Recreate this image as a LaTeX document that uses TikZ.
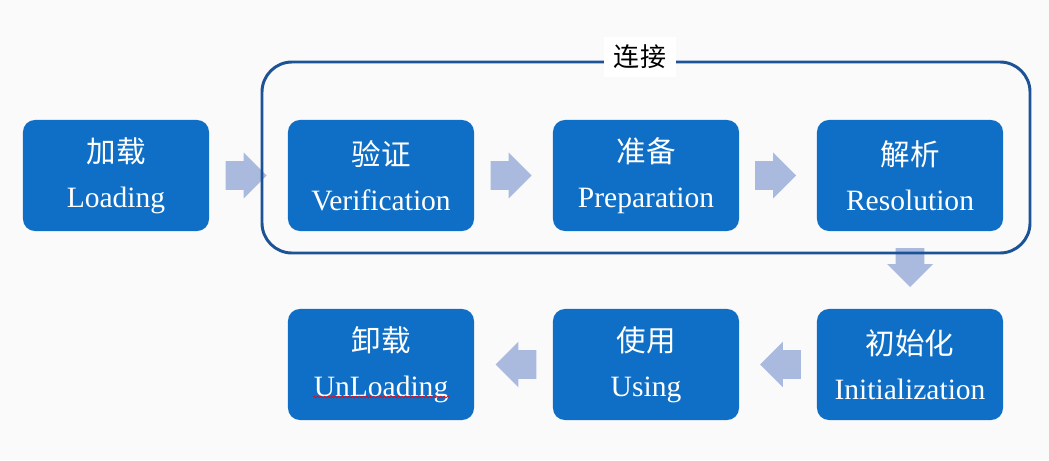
\documentclass[tikz,border=0pt]{standalone}
\usepackage{fontspec}
\setmainfont{Liberation Serif}
\newfontfamily\cjk{Noto Sans CJK SC}
\usepackage{xcolor}
\usepackage{tikz}
\usetikzlibrary{shapes,shapes.arrows,calc,decorations.pathmorphing}
\definecolor{boxBlue}{RGB}{15,111,198}
\definecolor{frameBlue}{RGB}{28,82,150}
\definecolor{arrowBlue}{RGB}{170,186,222}
\definecolor{pageGray}{RGB}{250,250,250}
\tikzstyle{tsStepText} = [ 
    text=white, 
    font=\fontsize{21}{32}\selectfont
]
\tikzstyle{tsStepBox} = [ 
    rectangle,
    tsStepText,
    align=center,
    fill=boxBlue,
    rounded corners=0.3cm,
    minimum width=4.65cm,
    minimum height=2.775cm,
    inner sep=0pt]
\tikzstyle{tsBlockArrow} = [ 
    single arrow,
    fill=arrowBlue,
    inner xsep=0.1cm,
    inner ysep=0.35cm,
    outer sep=0pt,
    anchor=tip,
    minimum height=1.02cm,
    single arrow head extend=0.2125cm]

\begin{document}
\begin{tikzpicture}[x=0.025cm, y=-0.025cm]

        \fill[pageGray] (0,0) rectangle (1049,460);

        \node[tsStepBox] (load) at (116,175.5) {{\cjk 加载}\\Loading};
        \node[tsStepBox] (verif) at (381,175.5) {{\cjk 验证}\\Verification};
        \node[tsStepBox] (prep) at (646,175.5) {{\cjk 准备}\\Preparation};
        \node[tsStepBox] (resol) at (910,175.5) {{\cjk 解析}\\Resolution};
        \node[tsStepBox] (init) at (910,364.5) {{\cjk 初始化}\\Initialization};
        \node[tsStepBox] (using) at (646,364.5) {{\cjk 使用}\\Using};
        \node[tsStepBox] (unload) at (381,364.5) {{\cjk 卸载}\\UnLoading};

        \node[tsBlockArrow] (arrLoad) at ($(load.east)!0.5!(verif.west)+(18,0)$) {};
        \node[tsBlockArrow] (arrVerif) at ($(verif.east)!0.5!(prep.west)+(18,0)$) {};
        \node[tsBlockArrow] (arrPrep) at ($(prep.east)!0.5!(resol.west)+(18,0)$) {};
        \node[tsBlockArrow, shape border rotate=270, inner xsep=0.35cm, inner ysep=0.1cm,
              minimum height=0.97cm] (arrResol) at ($(resol.south)!0.5!(init.north)+(0,17)$) {};
        \node[tsBlockArrow, shape border rotate=180] (arrInit) at ($(init.west)!0.5!(using.east)+(-18,0)$) {};
        \node[tsBlockArrow, shape border rotate=180] (arrUsing) at ($(using.west)!0.5!(unload.east)+(-18,0)$) {};

        % linking stage frame
        \draw[frameBlue, line width=2.1pt, rounded corners=0.75cm] (262,62) rectangle (1030,253);
        \node[fill=white, text=black, inner xsep=0.25cm, inner ysep=0.2cm,
              font=\cjk\fontsize{18.5}{22}\selectfont] (linkLabel) at (640,57) {连接};

        \draw[red, line width=0.5pt, decorate,
              decoration={snake, amplitude=0.6pt, segment length=2.5pt}]
              ($(unload.center)+(-68,32.5)$) -- ($(unload.center)+(68,32.5)$);

       \end{tikzpicture}
\end{document}
